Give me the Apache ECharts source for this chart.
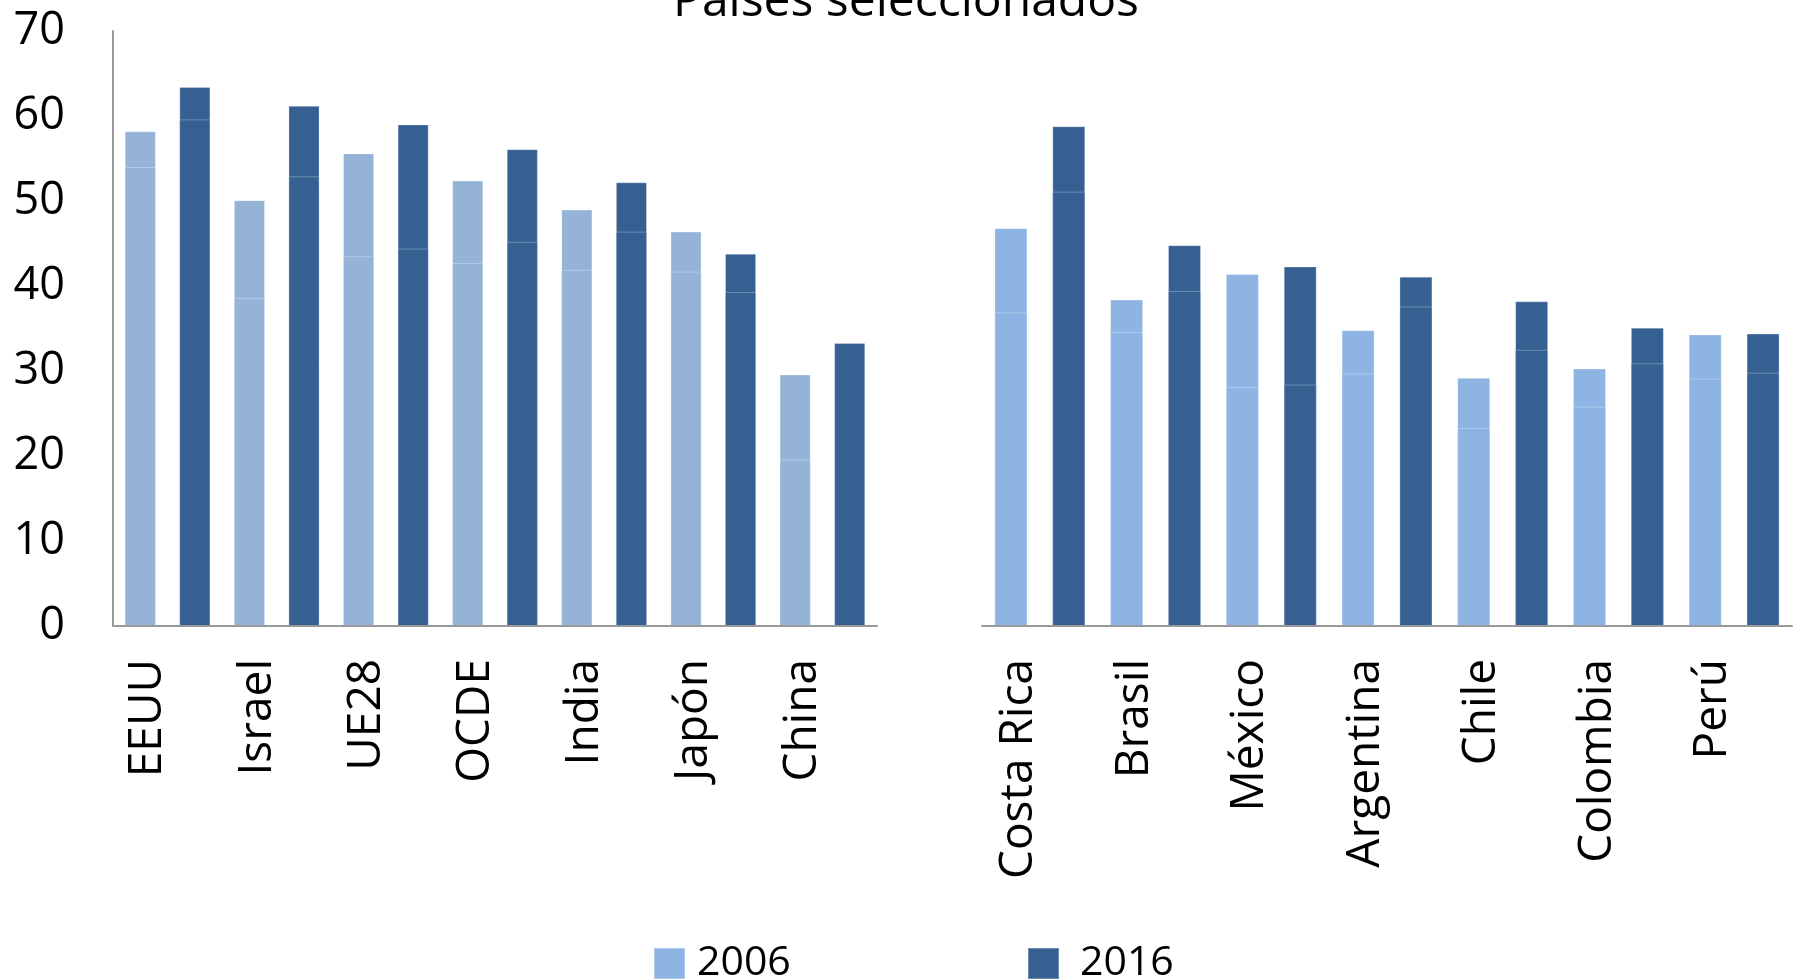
<!DOCTYPE html>
<html>
<head>
<meta charset="utf-8">
<title>Países seleccionados</title>
<script src="https://cdn.jsdelivr.net/npm/echarts@6/dist/echarts.min.js"></script>
<style>
  html, body { margin: 0; padding: 0; background: #fff; }
  #chart { width: 1794px; height: 980px; }
</style>
</head>
<body>
<div id="chart"></div>
<script>
// paises con mayor nivel
var leftCountries = ['EEUU', 'Israel', 'UE28', 'OCDE', 'India', 'Japón', 'China'];
var left2006 = [58.2, 50.1, 55.6, 52.4, 49.0, 46.4, 29.6];
var left2016 = [63.4, 61.2, 59.0, 56.1, 52.2, 43.8, 33.3];
// corte interno de cada barra
var leftBase2006 = [54.0, 38.6, 43.5, 42.7, 41.9, 41.7, 19.6];
var leftBase2016 = [59.6, 52.9, 44.4, 45.2, 46.4, 39.3, null];

// America Latina
var rightCountries = ['Costa Rica', 'Brasil', 'México', 'Argentina', 'Chile', 'Colombia', 'Perú'];
var right2006 = [46.8, 38.4, 41.4, 34.8, 29.2, 30.3, 34.3];
var right2016 = [58.8, 44.8, 42.3, 41.1, 38.2, 35.1, 34.4];
var rightBase2006 = [36.9, 34.6, 28.1, 29.7, 23.3, 25.8, 29.1];
var rightBase2016 = [51.1, 39.4, 28.4, 37.6, 32.5, 30.9, 29.8];

var yTicks = [0, 10, 20, 30, 40, 50, 60, 70];

var colLight = '#95b3d7';
var colLightR = '#8db4e2';
var colDark = '#366092';
var fontName = '"Open Sans", "DejaVu Sans", sans-serif';

// cada pais ocupa dos posiciones: 2006 y 2016
function cats(list) {
    var out = [];
    list.forEach(function (c) { out.push(c); out.push(''); });
    return out;
}
function slot(values, offset) {
    var out = [];
    values.forEach(function (v) {
        if (offset === 0) { out.push(v == null ? '-' : v); out.push('-'); }
        else { out.push('-'); out.push(v == null ? '-' : v); }
    });
    return out;
}

function barSeries(name, data, color, idx, z) {
    return {
        name: name,
        type: 'bar',
        xAxisIndex: idx,
        yAxisIndex: idx,
        data: data,
        barWidth: '57%',
        barGap: '-100%',
        z: z,
        itemStyle: {
            color: color,
            borderColor: 'rgba(255,255,255,0.28)',
            borderWidth: 1
        },
        emphasis: { disabled: true }
    };
}

var myChart = echarts.init(document.getElementById('chart'));

var xAxisCommon = {
    type: 'category',
    z: 10,
    axisTick: { show: false },
    axisLine: { lineStyle: { color: '#999', width: 2 } },
    axisLabel: {
        interval: 0,
        rotate: 90,
        margin: 33,
        verticalAlign: 'top',
        lineHeight: 16,
        color: '#000',
        fontSize: 46,
        fontFamily: fontName
    }
};

var option = {
    animation: false,
    title: {
        text: 'Países seleccionados',
        left: 668,
        top: -27,
        textStyle: { fontSize: 48, fontWeight: 'normal', color: '#000', fontFamily: fontName }
    },
    legend: [{
        data: [{ name: '2006', itemStyle: { color: colLightR } }],
        left: 648,
        top: 938,
        itemWidth: 31,
        itemHeight: 31,
        icon: 'rect',
        textStyle: { fontSize: 41, color: '#000', fontFamily: fontName, padding: [0, 0, 0, 7] }
    }, {
        data: [{ name: '2016', itemStyle: { color: colDark } }],
        left: 1022,
        top: 938,
        itemWidth: 31,
        itemHeight: 31,
        icon: 'rect',
        textStyle: { fontSize: 41, color: '#000', fontFamily: fontName, padding: [0, 0, 0, 16] }
    }],
    grid: [
        { left: 113, right: 917, top: 31, bottom: 354 },
        { left: 982, right: 2, top: 31, bottom: 354 }
    ],
    xAxis: [
        Object.assign({}, xAxisCommon, { gridIndex: 0, data: cats(leftCountries) }),
        Object.assign({}, xAxisCommon, { gridIndex: 1, data: cats(rightCountries) })
    ],
    yAxis: [{
        gridIndex: 0,
        type: 'value',
        min: yTicks[0],
        max: yTicks[yTicks.length - 1],
        interval: 10,
        splitLine: { show: false },
        axisTick: { show: false },
        axisLine: { show: true, lineStyle: { color: '#999', width: 2 } },
        axisLabel: { margin: 48, color: '#000', fontSize: 45, fontFamily: fontName }
    }, {
        gridIndex: 1,
        type: 'value',
        min: yTicks[0],
        max: yTicks[yTicks.length - 1],
        interval: 10,
        splitLine: { show: false },
        axisTick: { show: false },
        axisLine: { show: false },
        axisLabel: { show: false }
    }],
    series: [
        barSeries('2006', slot(left2006, 0), colLight, 0, 2),
        barSeries('2016', slot(left2016, 1), colDark, 0, 2),
        barSeries('base 2006', slot(leftBase2006, 0), colLight, 0, 3),
        barSeries('base 2016', slot(leftBase2016, 1), colDark, 0, 3),
        barSeries('2006', slot(right2006, 0), colLightR, 1, 2),
        barSeries('2016', slot(right2016, 1), colDark, 1, 2),
        barSeries('base 2006', slot(rightBase2006, 0), colLightR, 1, 3),
        barSeries('base 2016', slot(rightBase2016, 1), colDark, 1, 3)
    ]
};
myChart.setOption(option);
</script>
</body>
</html>
